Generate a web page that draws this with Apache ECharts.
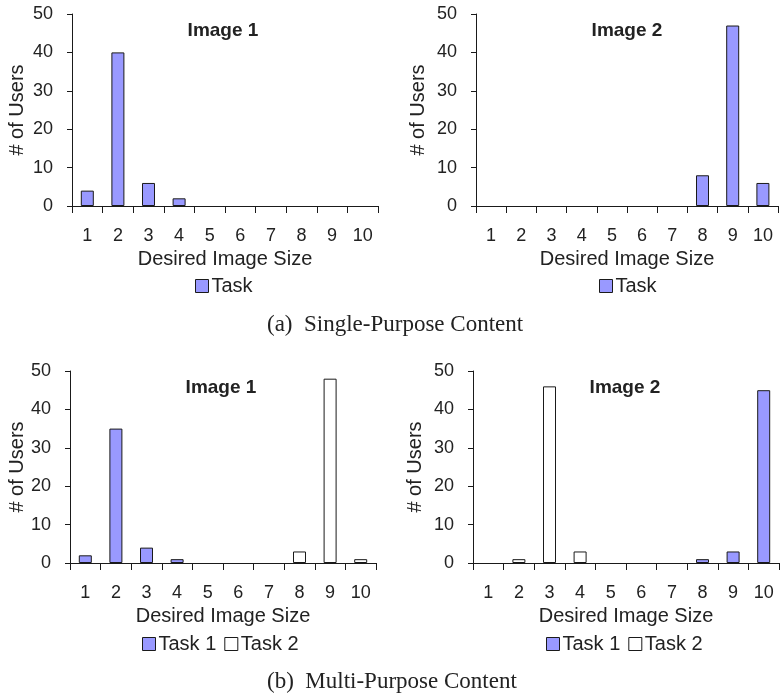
<!DOCTYPE html>
<html>
<head>
<meta charset="utf-8">
<script src="https://cdn.jsdelivr.net/npm/echarts@6/dist/echarts.min.js"></script>
<style>
html,body{margin:0;padding:0;background:#fff;}
#c{width:780px;height:697px;}
</style>
</head>
<body>
<div id="c"></div>
<script>
var sizes = ['1','2','3','4','5','6','7','8','9','10'];
var yTicks = [0, 10, 20, 30, 40, 50];

// (a) Single-Purpose Content
var singleImg1Task = [4, 40, 6, 2, 0, 0, 0, 0, 0, 0];
var singleImg2Task = [0, 0, 0, 0, 0, 0, 0, 8, 47, 6];
// (b) Multi-Purpose Content
var multiImg1Task1 = [2, 35, 4, 1, 0, 0, 0, 0, 0, 0];
var multiImg1Task2 = [0, 0, 0, 0, 0, 0, 0, 3, 48, 1];
var multiImg2Task1 = [0, 0, 0, 0, 0, 0, 0, 1, 3, 45];
var multiImg2Task2 = [0, 1, 46, 3, 0, 0, 0, 0, 0, 0];

var panelTitles = ['Image 1', 'Image 2', 'Image 1', 'Image 2'];
var captions = ['(a)  Single-Purpose Content', '(b)  Multi-Purpose Content'];

var BLUE = '#9999FF';
var EDGE = '#1a1a1a';
var TXT = '#222222';
var SANS = 'Liberation Sans, Arial, sans-serif';
var SERIF = 'Liberation Serif, Times New Roman, serif';

function nz(arr){ return arr.map(function(v){ return v === 0 ? '-' : v; }); }

var grids = [
  {left: 72, top: 14, width: 306, height: 192},
  {left: 476, top: 14, width: 302, height: 192},
  {left: 70, top: 371, width: 306, height: 192},
  {left: 473, top: 371, width: 306, height: 192}
];
var yNameGaps = [45, 48, 43, 48];

var xAxes = grids.map(function(g, i){
  return {
    type: 'category', gridIndex: i, data: sizes, boundaryGap: true,
    axisLine: {show: true, lineStyle: {color: EDGE, width: 1}},
    axisTick: {show: true, length: 7, lineStyle: {color: EDGE}},
    axisLabel: {color: TXT, fontFamily: SANS, fontSize: 18, margin: 21},
    name: 'Desired Image Size', nameLocation: 'middle', nameGap: 43,
    nameTextStyle: {color: TXT, fontFamily: SANS, fontSize: 20},
    splitLine: {show: false}
  };
});
var yAxes = grids.map(function(g, i){
  return {
    type: 'value', gridIndex: i, min: yTicks[0], max: yTicks[yTicks.length-1], interval: yTicks[1]-yTicks[0],
    axisLine: {show: true, lineStyle: {color: EDGE, width: 1}},
    axisTick: {show: true, length: 5, lineStyle: {color: EDGE}},
    axisLabel: {color: TXT, fontFamily: SANS, fontSize: 18, margin: 19},
    splitLine: {show: false},
    name: '# of Users', nameLocation: 'middle', nameGap: yNameGaps[i], nameRotate: 90,
    nameTextStyle: {color: TXT, fontFamily: SANS, fontSize: 20, padding: [0,0,0,0]}
  };
});

function barSeries(name, data, idx, fill){
  return {
    type: 'bar', name: name, data: nz(data), xAxisIndex: idx, yAxisIndex: idx,
    stack: 'p' + idx, barWidth: 13,
    itemStyle: {color: fill, borderColor: EDGE, borderWidth: 1},
    emphasis: {disabled: true}, animation: false
  };
}

var series = [
  barSeries('Task', singleImg1Task, 0, BLUE),
  barSeries('Task', singleImg2Task, 1, BLUE),
  barSeries('Task 1', multiImg1Task1, 2, BLUE),
  barSeries('Task 2', multiImg1Task2, 2, '#ffffff'),
  barSeries('Task 1', multiImg2Task1, 3, BLUE),
  barSeries('Task 2', multiImg2Task2, 3, '#ffffff')
];

function legend(left, top, names){
  return {
    left: left, top: top, data: names, selectedMode: false,
    icon: 'rect', itemWidth: 13, itemHeight: 13, itemGap: 8,
    itemStyle: {borderColor: EDGE, borderWidth: 1},
    textStyle: {color: TXT, fontFamily: SANS, fontSize: 20, padding: [0,0,0,-2]}
  };
}

var titlePos = [[223, 31], [627, 31], [221, 388], [625, 388]];
var graphics = titlePos.map(function(p, i){
  return {type: 'text', x: p[0], y: p[1], silent: true,
    style: {text: panelTitles[i], font: 'bold 19px ' + SANS, fill: TXT, align: 'center', verticalAlign: 'middle'}};
});
graphics.push({type: 'text', x: 267, y: 325, silent: true,
  style: {text: captions[0], font: '23px ' + SERIF, fill: TXT, align: 'left', verticalAlign: 'middle'}});
graphics.push({type: 'text', x: 267, y: 682, silent: true,
  style: {text: captions[1], font: '23px ' + SERIF, fill: TXT, align: 'left', verticalAlign: 'middle'}});

var chart = echarts.init(document.getElementById('c'), null, {renderer: 'canvas'});
chart.setOption({
  animation: false,
  backgroundColor: '#ffffff',
  grid: grids,
  xAxis: xAxes,
  yAxis: yAxes,
  legend: [
    legend(190, 271, ['Task']),
    legend(594, 271, ['Task']),
    legend(137, 629, ['Task 1', 'Task 2']),
    legend(541, 629, ['Task 1', 'Task 2'])
  ],
  series: series,
  graphic: graphics
});
</script>
</body>
</html>
